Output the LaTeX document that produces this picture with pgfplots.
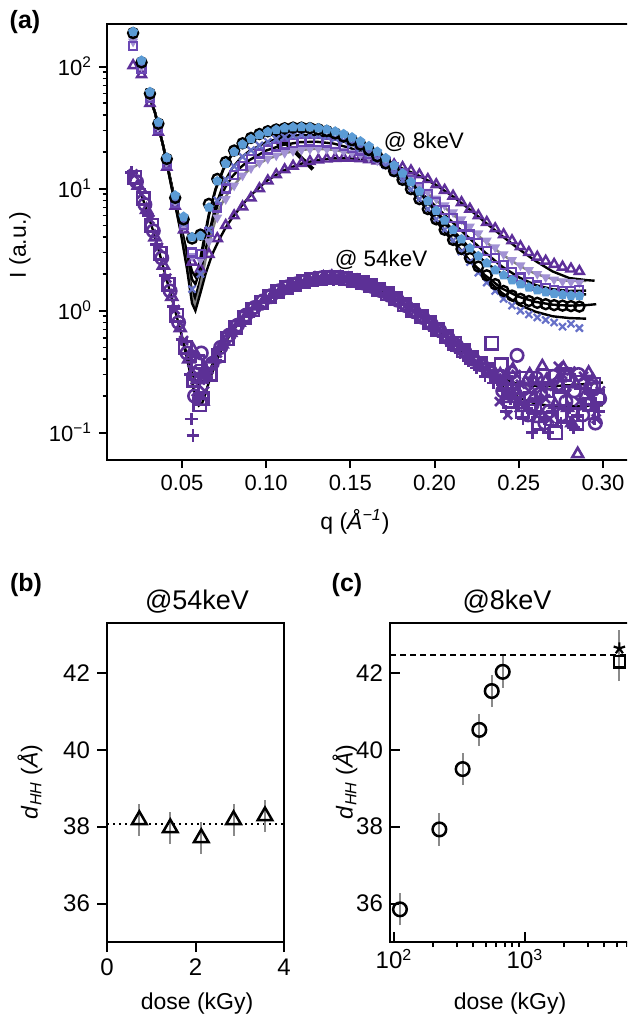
\documentclass[border=0pt]{standalone}
\usepackage{pgfplots}
\pgfplotsset{compat=1.18}
\usepackage{fontspec}
\setmainfont{Liberation Sans}
\usetikzlibrary{arrows.meta}
\definecolor{cpurple}{HTML}{5E2F9A}
\definecolor{cpurple2}{HTML}{6B48B5}
\definecolor{cslate}{HTML}{6670C8}
\definecolor{clblue}{HTML}{5B9BD5}
\definecolor{clav}{HTML}{A292D4}
\definecolor{cfive}{HTML}{5C3096}
\definecolor{cerr}{HTML}{8A8A8A}

\begin{document}
\begin{tikzpicture}
\pgfplotsset{
  panel/.style={scale only axis, anchor=south west,
    axis line style={line width=1pt},
    major tick style={black, line width=1pt},
    minor tick style={black, line width=0.8pt},
    tick pos=left},
  s54/.style={only marks, mark size=3.1pt, mark options={line width=1.3pt}, cfive},
}
\begin{scope}
\clip (0,0) rectangle (313.5pt,-508.5pt);

% ---------------- (a) ----------------
\begin{axis}[panel,
  at={(53.5pt,-230pt)}, width=266.5pt, height=218pt,
  xmin=0.0055, xmax=0.322,
  ymode=log, ymin=0.0598, ymax=223,
  xtick={0.05,0.10,0.15,0.20,0.25,0.30},
  xticklabels={0.05,0.10,0.15,0.20,0.25,0.30},
  ytick={0.1,1,10,100},
  yticklabels={10\textsuperscript{−1},10\textsuperscript{0},10\textsuperscript{1},10\textsuperscript{2}},
  tick align=outside, major tick length=4pt, minor tick length=2.2pt,
  tick label style={font=\fontsize{11}{13}\selectfont},
  ]
% 54 keV data
\addplot[s54, mark=+] coordinates {
(0.020,13.6) (0.025,9.9) (0.030,6.0) (0.035,3.5) (0.040,1.95) (0.045,1.08) (0.050,0.58) (0.055,0.30)
(0.0556,0.13) (0.0565,0.095) (0.058,0.42) (0.060,0.21) (0.062,0.36) (0.065,0.28) (0.070,0.39) (0.075,0.53) (0.080,0.66)
(0.085,0.80) (0.090,0.96) (0.095,1.08) (0.100,1.22) (0.105,1.36) (0.110,1.47) (0.115,1.58) (0.120,1.66)
(0.125,1.72) (0.130,1.79) (0.135,1.82) (0.140,1.80) (0.145,1.80) (0.150,1.74) (0.155,1.68) (0.160,1.58)
(0.165,1.49) (0.170,1.38) (0.175,1.25) (0.180,1.12) (0.185,1.0) (0.190,0.90) (0.195,0.79) (0.200,0.69)
(0.205,0.61) (0.210,0.52) (0.215,0.45) (0.220,0.39) (0.225,0.34) (0.230,0.29) (0.235,0.255) (0.2375,0.27) (0.240,0.22)
(0.2425,0.15) (0.245,0.19) (0.2475,0.21) (0.250,0.17) (0.2525,0.13) (0.255,0.16) (0.258,0.10) (0.260,0.15)
(0.2625,0.19) (0.265,0.13) (0.2675,0.10) (0.270,0.15) (0.275,0.12) (0.2775,0.22) (0.280,0.16) (0.2825,0.11)
(0.285,0.14) (0.290,0.17) (0.2925,0.21) (0.295,0.13) (0.2975,0.15)};
\addplot[s54, mark=x] coordinates {
(0.021,13.2) (0.026,9.0) (0.031,5.6) (0.036,3.3) (0.041,1.85) (0.046,1.02) (0.051,0.57) (0.056,0.33)
(0.0585,0.19) (0.061,0.27) (0.0635,0.22) (0.066,0.33) (0.071,0.45) (0.076,0.58) (0.081,0.72) (0.086,0.86) (0.091,1.0) (0.096,1.15)
(0.101,1.28) (0.106,1.40) (0.111,1.53) (0.116,1.63) (0.121,1.71) (0.126,1.78) (0.131,1.84) (0.136,1.86)
(0.141,1.87) (0.146,1.84) (0.151,1.79) (0.156,1.72) (0.161,1.62) (0.166,1.52) (0.171,1.40) (0.176,1.28)
(0.181,1.15) (0.186,1.03) (0.191,0.92) (0.196,0.82) (0.201,0.72) (0.206,0.63) (0.211,0.55) (0.216,0.48)
(0.221,0.42) (0.226,0.37) (0.231,0.33) (0.236,0.30) (0.2385,0.18) (0.241,0.28) (0.2435,0.14) (0.2485,0.30)
(0.251,0.25) (0.2535,0.17) (0.256,0.22) (0.261,0.27) (0.2635,0.23) (0.266,0.19) (0.2685,0.13) (0.271,0.24)
(0.2735,0.35) (0.276,0.30) (0.2785,0.21) (0.281,0.32) (0.286,0.18) (0.2885,0.29) (0.291,0.26) (0.2935,0.16)
(0.296,0.13) (0.2985,0.22)};
\addplot[s54, mark=square] coordinates {
(0.022,12.4) (0.027,8.3) (0.032,5.0) (0.037,2.95) (0.042,1.65) (0.047,0.92) (0.052,0.50) (0.057,0.27)
(0.0595,0.38) (0.0605,0.17) (0.062,0.19) (0.067,0.30) (0.072,0.43) (0.077,0.59) (0.082,0.73) (0.087,0.88) (0.092,1.02) (0.097,1.17)
(0.102,1.30) (0.107,1.43) (0.112,1.55) (0.117,1.64) (0.122,1.73) (0.127,1.79) (0.132,1.85) (0.137,1.87)
(0.142,1.86) (0.147,1.83) (0.152,1.78) (0.157,1.70) (0.162,1.60) (0.167,1.49) (0.172,1.37) (0.177,1.25)
(0.182,1.12) (0.187,1.0) (0.192,0.90) (0.197,0.80) (0.202,0.70) (0.207,0.62) (0.212,0.54) (0.217,0.47)
(0.222,0.41) (0.227,0.37) (0.232,0.33) (0.234,0.54) (0.237,0.29) (0.2395,0.36) (0.242,0.26) (0.2445,0.18)
(0.247,0.22) (0.252,0.15) (0.2545,0.28) (0.257,0.19) (0.2595,0.16) (0.262,0.12) (0.2645,0.29) (0.267,0.22)
(0.2695,0.13) (0.272,0.10) (0.2745,0.19) (0.277,0.30) (0.2795,0.27) (0.282,0.14) (0.2845,0.12) (0.287,0.26)
(0.292,0.17) (0.2945,0.25) (0.297,0.20)};
\addplot[s54, mark=o] coordinates {
(0.023,11.4) (0.028,7.4) (0.033,4.5) (0.038,2.7) (0.043,1.45) (0.048,0.80) (0.053,0.45) (0.0575,0.20) (0.058,0.30)
(0.0615,0.45) (0.063,0.29) (0.068,0.37) (0.073,0.50) (0.078,0.63) (0.083,0.76) (0.088,0.92) (0.093,1.06) (0.098,1.20)
(0.103,1.33) (0.108,1.46) (0.113,1.57) (0.118,1.66) (0.123,1.74) (0.128,1.81) (0.133,1.86) (0.138,1.88)
(0.143,1.87) (0.148,1.82) (0.153,1.76) (0.158,1.68) (0.163,1.58) (0.168,1.46) (0.173,1.34) (0.178,1.22)
(0.183,1.10) (0.188,0.98) (0.193,0.88) (0.198,0.78) (0.203,0.69) (0.208,0.60) (0.213,0.52) (0.218,0.46)
(0.223,0.40) (0.228,0.36) (0.233,0.32) (0.238,0.29) (0.2405,0.22) (0.243,0.25) (0.2455,0.31) (0.248,0.20)
(0.249,0.43) (0.253,0.23) (0.2555,0.14) (0.258,0.17) (0.2605,0.28) (0.263,0.21) (0.2655,0.12) (0.268,0.15)
(0.2705,0.29) (0.273,0.25) (0.2755,0.14) (0.278,0.18) (0.283,0.22) (0.2855,0.30) (0.288,0.14) (0.2905,0.17)
(0.293,0.24) (0.2955,0.12) (0.298,0.19)};
\addplot[s54, mark=triangle] coordinates {
(0.024,10.6) (0.029,6.7) (0.034,4.0) (0.039,2.35) (0.044,1.30) (0.049,0.72) (0.054,0.40) (0.0565,0.48) (0.059,0.27)
(0.0625,0.18) (0.064,0.31) (0.069,0.40) (0.074,0.53) (0.079,0.66) (0.084,0.80) (0.089,0.95) (0.094,1.09) (0.099,1.23)
(0.104,1.36) (0.109,1.49) (0.114,1.59) (0.119,1.68) (0.124,1.76) (0.129,1.82) (0.134,1.86) (0.139,1.89)
(0.144,1.86) (0.149,1.81) (0.154,1.74) (0.159,1.65) (0.164,1.55) (0.169,1.44) (0.174,1.32) (0.179,1.19)
(0.184,1.07) (0.189,0.96) (0.194,0.86) (0.199,0.76) (0.204,0.67) (0.209,0.59) (0.214,0.51) (0.219,0.45)
(0.224,0.40) (0.229,0.36) (0.234,0.32) (0.239,0.30) (0.2415,0.19) (0.244,0.27) (0.2465,0.33) (0.249,0.22)
(0.2515,0.16) (0.254,0.26) (0.2565,0.30) (0.259,0.20) (0.2615,0.13) (0.264,0.35) (0.2665,0.27) (0.269,0.24)
(0.2715,0.17) (0.274,0.28) (0.2765,0.34) (0.279,0.16) (0.2815,0.12) (0.284,0.25) (0.285,0.067) (0.289,0.20)
(0.2915,0.31) (0.294,0.27)};
% 54 keV fits
\addplot[black, line width=1.2pt] coordinates {
(0.025,9.7) (0.03,6.1) (0.035,3.6) (0.04,2.0) (0.045,1.12) (0.05,0.62) (0.053,0.43) (0.056,0.31)
(0.058,0.265) (0.060,0.25) (0.062,0.26) (0.064,0.28) (0.068,0.36) (0.072,0.46) (0.076,0.57) (0.08,0.68)
(0.085,0.83) (0.09,0.975) (0.095,1.11) (0.1,1.25) (0.105,1.375) (0.11,1.5) (0.115,1.6) (0.12,1.69)
(0.125,1.76) (0.13,1.815) (0.135,1.845) (0.14,1.85) (0.145,1.835) (0.15,1.785) (0.155,1.715) (0.16,1.63)
(0.165,1.53) (0.17,1.415) (0.175,1.295) (0.18,1.17) (0.185,1.045) (0.19,0.935) (0.195,0.83) (0.2,0.73)
(0.205,0.645) (0.21,0.56) (0.215,0.49) (0.22,0.43) (0.225,0.38) (0.23,0.34) (0.235,0.305) (0.24,0.28)
(0.245,0.262) (0.25,0.25) (0.255,0.245) (0.26,0.242) (0.27,0.241) (0.28,0.245) (0.29,0.251) (0.30,0.258)};
\addplot[black, line width=1.2pt] coordinates {
(0.05,0.6) (0.052,0.46) (0.054,0.35) (0.056,0.26) (0.058,0.195) (0.060,0.167) (0.062,0.175) (0.064,0.21)
(0.066,0.26) (0.068,0.31) (0.070,0.37) (0.072,0.43) (0.074,0.5) (0.076,0.56) (0.08,0.67)};
\addplot[black, line width=1.2pt] coordinates {
(0.215,0.485) (0.22,0.42) (0.225,0.36) (0.23,0.31) (0.235,0.27) (0.24,0.24) (0.245,0.215) (0.25,0.195)
(0.255,0.182) (0.26,0.174) (0.265,0.169) (0.27,0.166) (0.28,0.165) (0.29,0.166) (0.30,0.168)};
% 8 keV data
\addplot[only marks, mark=triangle, mark size=2.6pt, mark options={line width=1.2pt}, cpurple] coordinates {
(0.021,102) (0.026,86) (0.031,50) (0.036,29) (0.041,15) (0.046,7.2) (0.051,4.6) (0.056,2.5) (0.061,2.2)
(0.066,2.9) (0.071,3.9) (0.076,5.0) (0.081,6.0) (0.086,7.1) (0.091,8.4) (0.096,10.0) (0.101,11.6)
(0.106,13.0) (0.111,14.3) (0.116,15.3) (0.121,16.1) (0.126,16.7) (0.131,17.2) (0.136,17.5) (0.141,17.7)
(0.146,17.8) (0.151,17.8) (0.156,17.6) (0.161,17.3) (0.166,16.9) (0.171,16.4) (0.176,15.7) (0.181,14.9)
(0.186,14.0) (0.191,13.0) (0.196,11.9) (0.201,10.8) (0.206,9.7) (0.211,8.7) (0.216,7.7) (0.221,6.8)
(0.226,6.0) (0.231,5.3) (0.236,4.7) (0.241,4.2) (0.246,3.75) (0.251,3.35) (0.256,3.0) (0.261,2.75)
(0.266,2.55) (0.271,2.4) (0.276,2.28) (0.281,2.2) (0.286,2.1)};
\addplot[only marks, mark=triangle*, mark size=2.3pt, mark options={rotate=180, line width=0.6pt, fill=clav}, clav] coordinates {
(0.021,160) (0.026,100) (0.031,56) (0.036,32) (0.041,16.5) (0.046,7.8) (0.051,4.9) (0.056,2.8) (0.061,2.6)
(0.066,3.7) (0.071,5.8) (0.076,8.2) (0.081,10.6) (0.086,12.8) (0.091,14.7) (0.096,16.3) (0.101,17.6)
(0.106,18.7) (0.111,19.6) (0.116,20.3) (0.121,20.8) (0.126,21.1) (0.131,21.2) (0.136,21.1) (0.141,20.8)
(0.146,20.3) (0.151,19.7) (0.156,19.0) (0.161,18.1) (0.166,17.0) (0.171,15.8) (0.176,14.5) (0.181,13.2)
(0.186,11.9) (0.191,10.6) (0.196,9.4) (0.201,8.3) (0.206,7.3) (0.211,6.4) (0.216,5.6) (0.221,4.9)
(0.226,4.3) (0.231,3.75) (0.236,3.3) (0.241,2.9) (0.246,2.6) (0.251,2.35) (0.256,2.15) (0.261,2.0)
(0.266,1.88) (0.271,1.8) (0.276,1.74) (0.281,1.72) (0.286,1.7)};
\addplot[only marks, mark=square, mark size=2pt, mark options={line width=1.1pt}, cpurple2] coordinates {
(0.021,148) (0.026,96) (0.031,55) (0.036,31) (0.041,16) (0.046,7.6) (0.051,5.0) (0.056,3.0) (0.061,2.9)
(0.066,4.4) (0.071,7.0) (0.076,10.0) (0.081,12.9) (0.086,15.4) (0.091,17.6) (0.096,19.4) (0.101,20.9)
(0.106,22.1) (0.111,23.0) (0.116,23.7) (0.121,24.1) (0.126,24.3) (0.131,24.2) (0.136,23.9) (0.141,23.3)
(0.146,22.5) (0.151,21.5) (0.156,20.5) (0.161,19.3) (0.166,17.9) (0.171,16.4) (0.176,14.9) (0.181,13.3)
(0.186,11.8) (0.191,10.3) (0.196,9.0) (0.201,7.8) (0.206,6.7) (0.211,5.75) (0.216,4.9) (0.221,4.2)
(0.226,3.6) (0.231,3.1) (0.236,2.7) (0.241,2.35) (0.246,2.08) (0.251,1.87) (0.256,1.72) (0.261,1.61)
(0.266,1.53) (0.271,1.48) (0.276,1.45) (0.281,1.46) (0.286,1.48)};
\addplot[only marks, mark=x, mark size=2.5pt, mark options={line width=1.1pt}, cslate] coordinates {
(0.021,182) (0.026,105) (0.031,58) (0.036,33) (0.041,17) (0.046,8.0) (0.051,5.2) (0.056,1.5) (0.061,2.0)
(0.066,4.6) (0.071,8.0) (0.076,11.8) (0.081,15.2) (0.086,18.2) (0.091,20.6) (0.096,22.6) (0.101,24.2)
(0.106,25.5) (0.111,26.5) (0.116,27.2) (0.121,27.6) (0.126,27.7) (0.131,27.4) (0.136,26.8) (0.141,25.9)
(0.146,24.7) (0.151,23.2) (0.156,21.5) (0.161,19.6) (0.166,17.6) (0.171,15.5) (0.176,13.5) (0.181,11.6)
(0.186,9.8) (0.191,8.2) (0.196,6.8) (0.201,5.6) (0.206,4.6) (0.211,3.75) (0.216,3.05) (0.221,2.5)
(0.226,2.05) (0.231,1.7) (0.236,1.45) (0.241,1.25) (0.246,1.1) (0.251,1.0) (0.256,0.93) (0.261,0.88)
(0.266,0.84) (0.271,0.8) (0.276,0.74) (0.281,0.78) (0.286,0.72)};
\addplot[only marks, mark=o, mark size=2.5pt, mark options={line width=1.2pt}, black] coordinates {
(0.021,188) (0.026,108) (0.031,60) (0.036,34) (0.041,17.5) (0.046,8.4) (0.051,5.6) (0.056,3.9) (0.061,4.2)
(0.066,7.5) (0.071,12) (0.076,16.5) (0.081,20.5) (0.086,23.5) (0.091,26) (0.096,28) (0.101,29.5)
(0.106,30.5) (0.111,31.2) (0.116,31.6) (0.121,31.6) (0.126,31.3) (0.131,30.6) (0.136,29.6) (0.141,28.3)
(0.146,26.7) (0.151,24.9) (0.156,22.9) (0.161,20.7) (0.166,18.4) (0.171,16.1) (0.176,13.9) (0.181,11.8)
(0.186,9.9) (0.191,8.2) (0.196,6.8) (0.201,5.6) (0.206,4.6) (0.211,3.8) (0.216,3.2) (0.221,2.7)
(0.226,2.3) (0.231,1.95) (0.236,1.65) (0.241,1.45) (0.246,1.33) (0.251,1.25) (0.256,1.2) (0.261,1.16)
(0.266,1.13) (0.271,1.11) (0.276,1.1) (0.281,1.09) (0.286,1.08)};
\addplot[only marks, mark=pentagon*, mark size=2.3pt, mark options={line width=0.5pt, fill=clblue}, clblue] coordinates {
(0.021,193) (0.026,112) (0.031,62) (0.036,35) (0.041,18) (0.046,8.8) (0.051,5.9) (0.056,4.0) (0.061,4.1)
(0.066,7.0) (0.071,11.5) (0.076,16) (0.081,20) (0.086,23) (0.091,25.5) (0.096,27.5) (0.101,29.2)
(0.106,30.4) (0.111,31.3) (0.116,31.8) (0.121,32) (0.126,31.8) (0.131,31.3) (0.136,30.5) (0.141,29.4)
(0.146,28) (0.151,26.3) (0.156,24.4) (0.161,22.3) (0.166,20.1) (0.171,17.8) (0.176,15.5) (0.181,13.3)
(0.186,11.3) (0.191,9.5) (0.196,7.9) (0.201,6.6) (0.206,5.5) (0.211,4.6) (0.216,3.85) (0.221,3.25)
(0.226,2.8) (0.231,2.45) (0.236,2.15) (0.241,1.95) (0.246,1.78) (0.251,1.65) (0.256,1.55) (0.261,1.47)
(0.266,1.42) (0.271,1.38) (0.276,1.35) (0.281,1.33) (0.286,1.32)};
% 8 keV fits
\addplot[black, line width=1.2pt] coordinates {
(0.029,66) (0.034,42) (0.039,22) (0.044,10.5) (0.049,5.2) (0.053,3.0) (0.056,2.1) (0.058,1.9) (0.060,2.3)
(0.063,3.8) (0.066,6.2) (0.07,10) (0.075,15) (0.08,19.5) (0.085,23) (0.09,25.6) (0.1,29) (0.11,30.8)
(0.12,31.4) (0.13,30.8) (0.14,28.8) (0.15,25.5) (0.16,21.4) (0.17,16.8) (0.18,12.2) (0.19,8.4) (0.2,5.6)
(0.21,3.8) (0.22,2.65) (0.23,1.95) (0.24,1.52) (0.25,1.3) (0.26,1.18) (0.27,1.12) (0.28,1.1) (0.29,1.11)
(0.296,1.13)};
\addplot[black, line width=1.2pt] coordinates {
(0.029,66) (0.034,42) (0.039,22) (0.044,10.5) (0.049,5.2) (0.053,2.9) (0.056,1.8) (0.058,1.65) (0.060,2.0)
(0.063,3.5) (0.066,6.0) (0.07,9.8) (0.075,14.8) (0.08,19.2) (0.085,22.8) (0.09,25.4) (0.1,29) (0.11,31.0)
(0.12,31.9) (0.13,31.4) (0.14,29.7) (0.15,26.6) (0.16,22.7) (0.17,18.3) (0.18,13.9) (0.19,9.9) (0.2,6.8)
(0.21,4.7) (0.22,3.35) (0.23,2.5) (0.24,2.0) (0.25,1.7) (0.26,1.52) (0.27,1.42) (0.28,1.37) (0.29,1.36)};
\addplot[black, line width=1.2pt] coordinates {
(0.029,66) (0.034,42) (0.039,22) (0.044,10.3) (0.049,4.9) (0.053,2.5) (0.056,1.35) (0.058,1.2) (0.060,1.5)
(0.063,2.6) (0.066,4.3) (0.07,7.2) (0.075,11.2) (0.08,14.8) (0.085,17.9) (0.09,20.3) (0.1,24) (0.11,26.3)
(0.12,27.5) (0.13,27.5) (0.14,26.1) (0.15,23.5) (0.16,19.9) (0.17,15.8) (0.18,11.8) (0.19,8.4) (0.2,5.8)
(0.21,3.9) (0.22,2.65) (0.23,1.85) (0.24,1.4) (0.25,1.12) (0.26,0.98) (0.27,0.9) (0.28,0.87) (0.29,0.86)};
\addplot[black, line width=1.2pt] coordinates {
(0.029,66) (0.034,42) (0.039,22) (0.044,10.2) (0.049,4.8) (0.053,2.4) (0.056,1.45) (0.058,1.3) (0.061,1.8)
(0.064,3.0) (0.068,5.2) (0.072,8.0) (0.076,10.4) (0.08,12.6) (0.085,15.0) (0.09,17.1) (0.1,20.5) (0.11,22.8)
(0.12,24.0) (0.13,24.2) (0.14,23.4) (0.15,21.5) (0.16,18.9) (0.17,15.9) (0.18,12.7) (0.19,9.8) (0.2,7.3)
(0.21,5.4) (0.22,4.0) (0.23,3.0) (0.24,2.3) (0.25,1.88) (0.26,1.62) (0.27,1.5) (0.28,1.45) (0.29,1.46)};
\addplot[gray, line width=1.2pt] coordinates {
(0.029,66) (0.034,42) (0.039,22) (0.044,10.1) (0.049,4.7) (0.053,2.3) (0.056,1.3) (0.058,1.1) (0.061,1.6)
(0.064,2.6) (0.068,4.5) (0.072,6.8) (0.076,8.6) (0.08,10.3) (0.085,12.4) (0.09,14.3) (0.1,17.3) (0.11,19.4)
(0.12,20.7) (0.13,21.2) (0.14,20.8) (0.15,19.6) (0.16,17.8) (0.17,15.5) (0.18,13.0) (0.19,10.5) (0.2,8.2)
(0.21,6.3) (0.22,4.8) (0.23,3.7) (0.24,2.9) (0.25,2.35) (0.26,2.0) (0.27,1.82) (0.28,1.75) (0.29,1.75)};
\addplot[black, line width=1.2pt] coordinates {
(0.029,66) (0.034,42) (0.039,22) (0.044,10) (0.049,4.6) (0.053,2.2) (0.056,1.15) (0.058,1.0) (0.061,1.4)
(0.064,2.0) (0.068,2.9) (0.072,3.8) (0.076,4.8) (0.08,5.8) (0.085,7.1) (0.09,8.6) (0.1,11.5) (0.11,14.0)
(0.12,15.9) (0.13,17.1) (0.14,17.7) (0.15,17.7) (0.16,17.2) (0.17,16.2) (0.18,14.8) (0.19,12.9) (0.2,10.9)
(0.21,8.8) (0.22,6.9) (0.23,5.3) (0.24,4.1) (0.25,3.2) (0.26,2.55) (0.27,2.1) (0.28,1.85) (0.29,1.78)
(0.295,1.76)};
\draw[line width=2pt, -{Latex[length=13pt,width=11pt]}] (axis cs:0.1278,14.4) -- (axis cs:0.1005,33.4);
\node[font=\fontsize{11.2}{13}\selectfont] at (axis cs:0.1937,24.3) {@ 8keV};
\node[font=\fontsize{11.2}{13}\selectfont] at (axis cs:0.1682,2.6) {@ 54keV};
\end{axis}

% ---------------- (b) ----------------
\begin{axis}[panel,
  at={(53.5pt,-471pt)}, width=88.5pt, height=159.5pt,
  xmin=0, xmax=4, ymin=35, ymax=43.3,
  xtick={0,2,4}, xticklabels={0,2,4},
  ytick={36,38,40,42}, yticklabels={36,38,40,42},
  tick align=outside, major tick length=5pt,
  tick label style={font=\fontsize{12}{14}\selectfont},
  unbounded coords=jump,
  ]
\addplot[black, dotted, line width=1pt] coordinates {(0,38.07) (4,38.07)};
% error bars (value +- 0.42)
\addplot[cerr, line width=1pt] coordinates {
  (0.73,37.76) (0.73,38.60) (0.73,nan)
  (1.43,37.55) (1.43,38.39) (1.43,nan)
  (2.13,37.29) (2.13,38.13) (2.13,nan)
  (2.86,37.76) (2.86,38.60) (2.86,nan)
  (3.57,37.86) (3.57,38.70)};
\addplot[only marks, mark=triangle, mark size=4.2pt, mark options={line width=1.25pt}, black] coordinates {
  (0.73,38.18) (1.43,37.97) (2.13,37.71) (2.86,38.18) (3.57,38.28)};
\end{axis}

% ---------------- (c) ----------------
\begin{axis}[panel,
  at={(195pt,-471pt)}, width=127.5pt, height=159.5pt,
  xmode=log, xmin=93.2, xmax=8240, ymin=35, ymax=43.3,
  xtick={100,1000}, xticklabels={10\textsuperscript{2},10\textsuperscript{3}},
  xminorticks=false,
  extra x ticks={200,300,400,500,600,700,800,900,2000,3000,4000,5000,6000,7000,8000},
  extra x tick labels={},
  extra x tick style={tick align=outside, major tick length=2.5pt},
  ytick={36,38,40,42}, yticklabels={36,38,40,42},
  tick align=inside, major tick length=5pt,
  tick label style={font=\fontsize{12}{14}\selectfont},
  unbounded coords=jump,
  ]
\addplot[black, dashed, dash pattern=on 3pt off 2pt, line width=1pt] coordinates {(93.2,42.48) (8240,42.48)};
% error bars
\addplot[cerr, line width=1pt] coordinates {
  (111,35.43) (111,36.27) (111,nan)
  (222,37.51) (222,38.35) (222,nan)
  (334,39.08) (334,39.92) (334,nan)
  (448,40.10) (448,40.94) (448,nan)
  (557,41.11) (557,41.95) (557,nan)
  (676,41.61) (676,42.45) (676,nan)
  (5250,42.02) (5250,43.12) (5250,nan)
  (5250,41.79) (5250,42.79)};
\addplot[only marks, mark=o, mark size=3.4pt, mark options={line width=1.25pt, fill=white}, black] coordinates {
  (111,35.85) (222,37.93) (334,39.5) (448,40.52) (557,41.53) (676,42.03)};
\addplot[only marks, mark=square, mark size=2.8pt, mark options={line width=1.1pt}, black] coordinates {(5250,42.29)};
\addplot[only marks, mark=star, mark size=3pt, mark options={line width=1.1pt}, black] coordinates {(5250,42.64)};
\end{axis}

% labels
\node[font=\bfseries\fontsize{12.5}{14}\selectfont] at (12.5pt,-11pt) {(a)};
\node[rotate=90, font=\fontsize{11.5}{13}\selectfont] at (10pt,-122.5pt) {I (a.u.)};
\node[font=\fontsize{11.5}{13}\selectfont] at (177.5pt,-261pt) {q (\textit{Å}\textsuperscript{\textit{−1}})};
\node[font=\bfseries\fontsize{12.5}{14}\selectfont] at (13pt,-292.5pt) {(b)};
\node[font=\fontsize{13.5}{15}\selectfont] at (98.5pt,-301pt) {@54keV};
\node[rotate=90, font=\fontsize{11.5}{13}\selectfont] at (15pt,-391pt) {\textit{d}\textsubscript{\textit{HH}} (\textit{Å})};
\node[font=\fontsize{11.5}{13}\selectfont] at (98.5pt,-502pt) {dose (kGy)};
\node[font=\bfseries\fontsize{12.5}{14}\selectfont] at (173.5pt,-292.5pt) {(c)};
\node[font=\fontsize{13.5}{15}\selectfont] at (253.5pt,-301pt) {@8keV};
\node[rotate=90, font=\fontsize{11.5}{13}\selectfont] at (172.5pt,-391pt) {\textit{d}\textsubscript{\textit{HH}} (\textit{Å})};
\node[font=\fontsize{11.5}{13}\selectfont] at (255pt,-502pt) {dose (kGy)};
\end{scope}
\pgfresetboundingbox
\useasboundingbox (0,0) rectangle (313.5pt,-508.5pt);
\end{tikzpicture}
\end{document}
